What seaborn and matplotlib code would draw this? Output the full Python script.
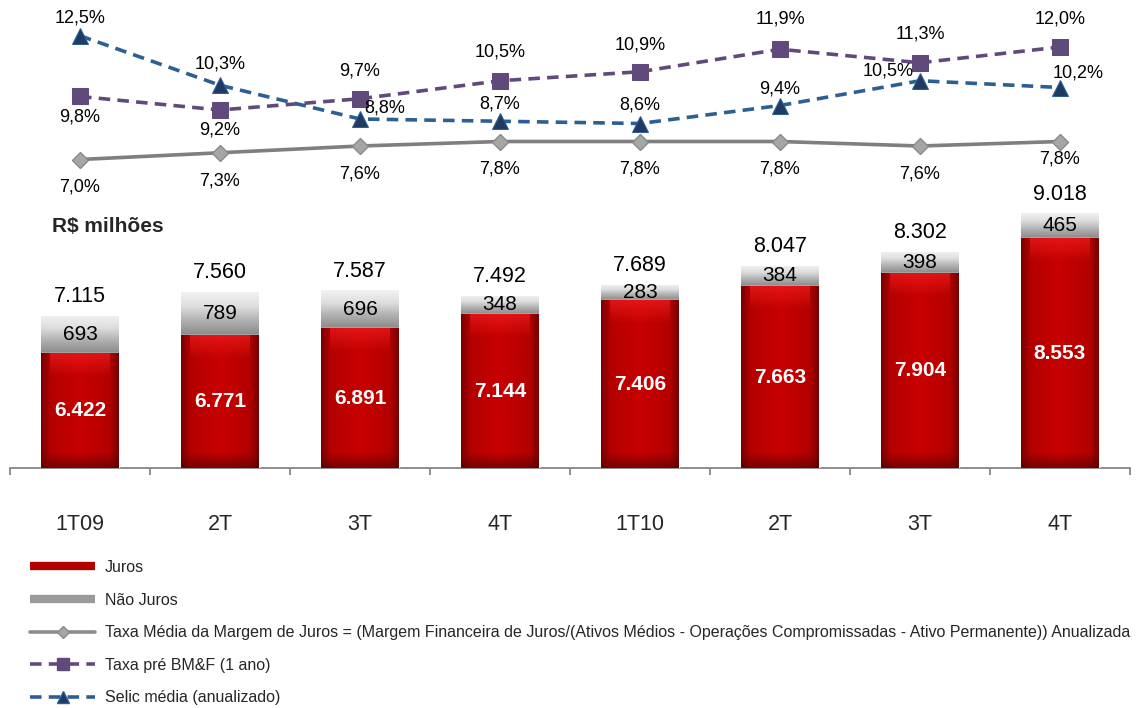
import numpy as np
import pandas as pd
import matplotlib
matplotlib.use("Agg")
import matplotlib.pyplot as plt
import seaborn as sns
from matplotlib.colors import LinearSegmentedColormap
from matplotlib.lines import Line2D

# ---- data ----
trimestres = ["1T09", "2T", "3T", "4T", "1T10", "2T", "3T", "4T"]
juros = [6422, 6771, 6891, 7144, 7406, 7663, 7904, 8553]
nao_juros = [693, 789, 696, 348, 283, 384, 398, 465]
total = [7115, 7560, 7587, 7492, 7689, 8047, 8302, 9018]
taxa_margem = [7.0, 7.3, 7.6, 7.8, 7.8, 7.8, 7.6, 7.8]
taxa_bmf = [9.8, 9.2, 9.7, 10.5, 10.9, 11.9, 11.3, 12.0]
selic = [12.5, 10.3, 8.8, 8.7, 8.6, 9.4, 10.5, 10.2]

legend_labels = [
    "Juros",
    "Não Juros",
    "Taxa Média da Margem de Juros = (Margem Financeira de Juros/(Ativos Médios - "
    "Operações Compromissadas - Ativo Permanente)) Anualizada",
    "Taxa pré BM&F (1 ano)",
    "Selic média (anualizado)",
]

# label offsets (pixels) for the percentage annotations
off_margem = [(0, -28)] * 7 + [(0, -17)]
off_bmf = [(0, -21), (0, -20), (0, 28), (0, 29), (0, 27), (0, 30), (0, 29), (0, 28)]
off_selic = [(0, 18), (0, 21), (25, 11), (0, 17), (0, 19), (0, 17), (-32, 10), (18, 15)]

df = pd.DataFrame({
    "id": [f"q{i}" for i in range(len(trimestres))],
    "pos": np.arange(len(trimestres)),
    "juros": juros,
    "total": total,
    "margem": taxa_margem,
    "bmf": taxa_bmf,
    "selic": selic,
})

sns.set_style("white")
plt.rcParams["font.family"] = ["Liberation Sans", "DejaVu Sans"]

fig = plt.figure(figsize=(11.37, 7.08), dpi=100)
ax = fig.add_axes([10 / 1137, 1 - 468 / 708, 1120 / 1137, 458 / 708])

Y0, Y1 = 4300, 12780
BW = 0.557
PX = 458 / (Y1 - Y0)  # pixels per unit on the bar axis

# gray (total) bars first, then red on top
sns.barplot(data=df, x="id", y="total", order=df["id"], color="#BDBDBD",
            width=BW, errorbar=None, ax=ax, saturation=1, zorder=2)
n = len(df)
gray_patches = list(ax.patches[:n])
sns.barplot(data=df, x="id", y="juros", order=df["id"], color="#C00000",
            width=BW, errorbar=None, ax=ax, saturation=1, zorder=3)
red_patches = list(ax.patches[n:2 * n])


def grad(patch, colors, extent, horizontal, z):
    cmap = LinearSegmentedColormap.from_list("g", colors)
    arr = np.linspace(0, 1, 256)
    arr = arr.reshape(1, -1) if horizontal else arr.reshape(-1, 1)
    im = ax.imshow(arr, cmap=cmap, extent=extent, aspect="auto", origin="lower",
                   interpolation="bicubic", zorder=z)
    im.set_clip_path(patch)


def band(patch, rgb, extent, alpha_lo, alpha_hi, z):
    # vertical alpha band (bevel highlight / shadow)
    a = np.linspace(alpha_lo, alpha_hi, 128).reshape(-1, 1)
    img = np.zeros((128, 1, 4))
    img[..., :3] = rgb
    img[..., 3] = a
    im = ax.imshow(img, extent=extent, aspect="auto", origin="lower",
                   interpolation="bicubic", zorder=z)
    im.set_clip_path(patch)


for i, p in enumerate(gray_patches):
    x0, w = p.get_x(), p.get_width()
    grad(p, ["#8A8A8A", "#B0B0B0", "#DEDEDE", "#F2F2F2"],
         (x0, x0 + w, juros[i], total[i]), False, 2.5)
for i, p in enumerate(red_patches):
    x0, w = p.get_x(), p.get_width()
    grad(p, [(0, "#780000"), (0.12, "#B40000"), (0.5, "#C80000"), (0.88, "#B40000"), (1, "#780000")],
         (x0, x0 + w, Y0, juros[i]), True, 3.5)
    band(p, (1.0, 0.15, 0.15), (x0 + 0.12 * w, x0 + 0.88 * w, juros[i] - 24 / PX, juros[i]),
         0.0, 0.55, 3.6)
    band(p, (0.35, 0.0, 0.0), (x0, x0 + w, Y0, Y0 + 16 / PX), 0.7, 0.0, 3.6)

ax.set_xlim(-0.5, n - 0.5)
ax.set_ylim(Y0, Y1)

# value labels
for i in range(n):
    ax.annotate(f"{total[i]:,}".replace(",", "."), (i, total[i]), xytext=(0, 19),
                textcoords="offset pixels", ha="center", va="center", fontsize=15.5,
                color="black", zorder=6)
    ax.text(i, (juros[i] + total[i]) / 2, f"{nao_juros[i]:,}".replace(",", "."),
            ha="center", va="center", fontsize=15, color="black", zorder=6)
    ax.text(i, (Y0 + juros[i]) / 2, f"{juros[i]:,}".replace(",", "."),
            ha="center", va="center", fontsize=15, color="white",
            fontweight="bold", zorder=6)

# axis styling
for s in ["top", "left", "right"]:
    ax.spines[s].set_visible(False)
ax.spines["bottom"].set_color("#868686")
ax.spines["bottom"].set_linewidth(1.3)
ax.set_yticks([])
ax.set_xticks(range(n))
ax.set_xticklabels(trimestres, fontsize=15.5)
ax.set_xticks(np.arange(-0.5, n, 1), minor=True)
ax.tick_params(axis="x", which="major", length=0, pad=33)
ax.tick_params(axis="x", which="minor", length=5, width=1.3, color="#868686",
               direction="out", bottom=True)
ax.set_xlabel("")
ax.set_ylabel("")

# ---- lines on twin axis ----
ax2 = ax.twinx()
ax2.set_ylim((317 - 468) / 22.5, (317 - 10) / 22.5)

sns.lineplot(data=df, x="pos", y="margem", ax=ax2, color="#7F7F7F", linewidth=2.6,
             marker="D", markersize=8.5, markerfacecolor="#A6A6A6",
             markeredgecolor="#8A8A8A", markeredgewidth=1, zorder=4)
sns.lineplot(data=df, x="pos", y="bmf", ax=ax2, color="#604A7B", linewidth=2.6,
             linestyle=(0, (3.2, 2.0)), marker="s", markersize=11,
             markerfacecolor="#5F4A7B", markeredgecolor="#5F4A7B", zorder=5)
sns.lineplot(data=df, x="pos", y="selic", ax=ax2, color="#2E5F93", linewidth=2.6,
             linestyle=(0, (3.2, 2.0)), marker="^", markersize=12,
             markerfacecolor="#1F3B63", markeredgecolor="#2E5F93", zorder=5)

for series, offs in [(taxa_margem, off_margem), (taxa_bmf, off_bmf), (selic, off_selic)]:
    for i, v in enumerate(series):
        ax2.annotate(f"{v:.1f}".replace(".", ",") + "%", (i, v), xytext=offs[i],
                     textcoords="offset pixels", ha="center", va="center",
                     fontsize=13, color="black", zorder=7)

ax2.set_xlim(-0.5, n - 0.5)
for s in ax2.spines.values():
    s.set_visible(False)
ax2.set_yticks([])
ax2.set_xlabel("")
ax2.set_ylabel("")

fig.text(108 / 1137, 1 - 226 / 708, "R$ milhões", ha="center", va="center",
         fontsize=15, fontweight="bold")

# ---- legend ----
handles = [
    Line2D([], [], color="#B00000", linewidth=6, solid_capstyle="butt"),
    Line2D([], [], color="#9A9A9A", linewidth=6, solid_capstyle="butt"),
    Line2D([], [], color="#8C8C8C", linewidth=2.6, marker="D", markersize=6,
           markerfacecolor="#A6A6A6", markeredgecolor="#8A8A8A"),
    Line2D([], [], color="#604A7B", linewidth=2.6, linestyle=(0, (3.2, 2.0)),
           marker="s", markersize=8, markerfacecolor="#5F4A7B", markeredgecolor="#5F4A7B"),
    Line2D([], [], color="#2E5F93", linewidth=2.6, linestyle=(0, (3.2, 2.0)),
           marker="^", markersize=8, markerfacecolor="#1F3B63", markeredgecolor="#2E5F93"),
]
fig.legend(handles, legend_labels, loc="upper left", bbox_to_anchor=(30 / 1137, 1 - 560 / 708),
           frameon=False, fontsize=11.5, handlelength=4.1, handletextpad=0.6,
           labelspacing=1.1, borderpad=0, borderaxespad=0, numpoints=1)

fig.savefig("out.png", dpi=100)
